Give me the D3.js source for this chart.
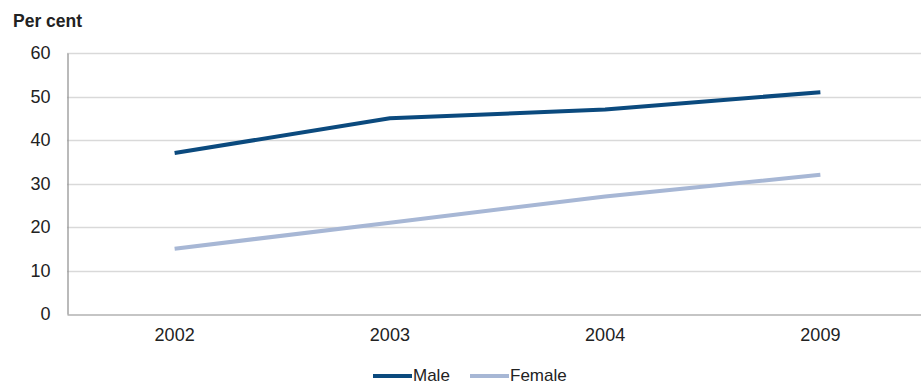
<!DOCTYPE html>
<html>
<head>
<meta charset="utf-8">
<script src="https://cdn.jsdelivr.net/npm/d3@7"></script>
<style>
  html, body { margin: 0; padding: 0; background: #fff; overflow: hidden; }
  svg { display: block; font-family: "Liberation Sans", Arial, sans-serif; }
</style>
</head>
<body>
<svg id="chart" width="921" height="385"></svg>
<script>
// Share of people (per cent) by survey year
const years = ["2002", "2003", "2004", "2009"];
const maleValues = [37, 45, 47, 51];
const femaleValues = [15, 21, 27, 32];
const yTicks = [0, 10, 20, 30, 40, 50, 60];
const seriesNames = ["Male", "Female"];
const seriesColors = ["#0b4a7e", "#a7b7d5"];

const svg = d3.select("#chart");
const plot = { left: 67, right: 928, top: 53, bottom: 314 };

const x = d3.scaleBand().domain(years).range([plot.left, plot.right]);
const y = d3.scaleLinear().domain([0, 60]).range([plot.bottom, plot.top]);

// horizontal gridlines
svg.append("g")
  .selectAll("line")
  .data(yTicks.filter(t => t > 0))
  .join("line")
  .attr("x1", plot.left).attr("x2", 921)
  .attr("y1", d => Math.round(y(d)) + 0.5).attr("y2", d => Math.round(y(d)) + 0.5)
  .attr("stroke", "#d9d9d9").attr("stroke-width", 1.5);

// y axis
const yAxis = svg.append("g")
  .attr("transform", `translate(${plot.left + 0.5},0)`)
  .call(d3.axisLeft(y).tickValues(yTicks).tickSize(0).tickPadding(17));
yAxis.select(".domain").attr("stroke", "#8c8c8c").attr("stroke-width", 1.2);
yAxis.selectAll("text").attr("font-size", 18).attr("fill", "#222");

// x axis
const xAxis = svg.append("g")
  .attr("transform", `translate(0,${plot.bottom + 0.5})`)
  .call(d3.axisBottom(x).tickSize(0).tickPadding(14));
xAxis.select(".domain").attr("stroke", "#8c8c8c").attr("stroke-width", 1.2);
xAxis.selectAll("text").attr("font-size", 18).attr("fill", "#222");

// title
svg.append("text")
  .attr("x", 13).attr("y", 27)
  .attr("font-size", 17.5).attr("font-weight", "bold").attr("fill", "#222")
  .text("Per cent");

// series lines
const line = d3.line()
  .x((d, i) => x(years[i]) + x.bandwidth() / 2)
  .y(d => y(d));

[maleValues, femaleValues].forEach((vals, i) => {
  svg.append("path")
    .datum(vals)
    .attr("d", line)
    .attr("fill", "none")
    .attr("stroke", seriesColors[i])
    .attr("stroke-width", 4)
    .attr("stroke-linejoin", "round");
});

// legend
const legendY = 376;
const legendX = [373, 470];
seriesNames.forEach((name, i) => {
  const g = svg.append("g").attr("transform", `translate(${legendX[i]},${legendY})`);
  g.append("line").attr("x1", 0).attr("x2", 39).attr("y1", 0).attr("y2", 0)
    .attr("stroke", seriesColors[i]).attr("stroke-width", 4);
  g.append("text").attr("x", 40).attr("y", 5)
    .attr("font-size", 17).attr("fill", "#222").text(name);
});
</script>
</body>
</html>
